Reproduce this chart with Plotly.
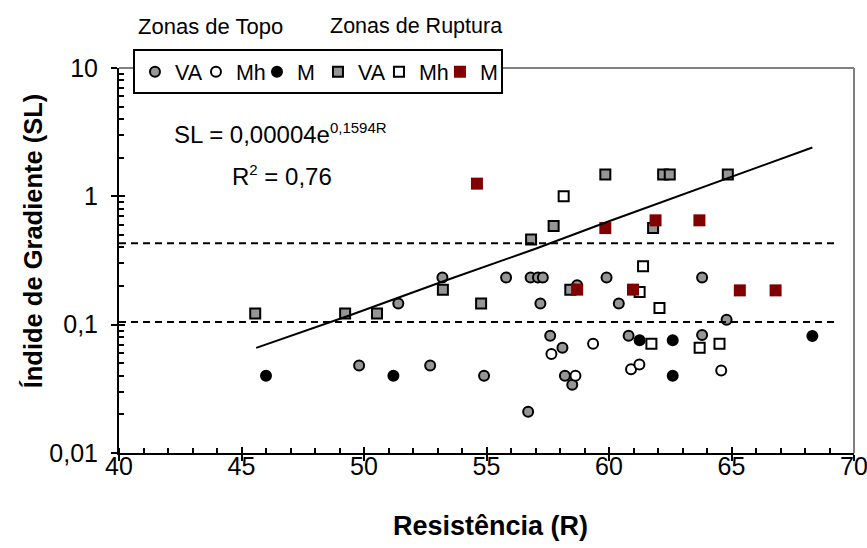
import plotly.graph_objects as go

# ---------------- data ----------------
topo_va_R = [51.4, 53.2, 55.8, 56.8, 57.1, 57.3, 59.9, 63.8, 57.2, 60.4, 49.8, 52.7,
             57.6, 58.1, 60.8, 54.9, 58.2, 58.5, 56.7, 58.7, 64.8, 63.8]
topo_va_SL = [0.146, 0.233, 0.233, 0.233, 0.233, 0.233, 0.233, 0.233, 0.146, 0.146, 0.048, 0.048,
              0.082, 0.066, 0.082, 0.040, 0.040, 0.034, 0.021, 0.203, 0.109, 0.083]

topo_mh_R = [57.65, 59.35, 58.63, 60.90, 61.24, 64.58]
topo_mh_SL = [0.059, 0.071, 0.040, 0.045, 0.049, 0.044]

topo_m_R = [46.0, 51.2, 61.25, 62.6, 62.6, 68.3]
topo_m_SL = [0.040, 0.040, 0.0755, 0.0755, 0.040, 0.0815]

rup_va_R = [45.56, 49.23, 50.53, 53.22, 54.78, 56.82, 57.74, 58.42, 59.85, 62.21, 62.48, 64.85, 61.80]
rup_va_SL = [0.122, 0.122, 0.122, 0.1875, 0.146, 0.46, 0.587, 0.1875, 1.48, 1.48, 1.48, 1.48, 0.566]

rup_mh_R = [58.15, 61.39, 61.25, 62.06, 61.73, 63.70, 64.51]
rup_mh_SL = [1.0, 0.285, 0.18, 0.135, 0.071, 0.066, 0.071]

rup_m_R = [54.61, 59.85, 61.90, 63.69, 58.70, 60.98, 65.34, 66.80]
rup_m_SL = [1.256, 0.566, 0.65, 0.65, 0.1875, 0.1875, 0.185, 0.185]

trend_R = [45.6, 49.4, 53.3, 57.0, 60.0, 64.9, 68.3]
trend_SL = [0.066, 0.118, 0.22, 0.39, 0.64, 1.40, 2.40]

limit_R = [40.0, 69.3]
limit_SL = [0.43, 0.105]

x_ticks = [40, 45, 50, 55, 60, 65, 70]
y_ticks = [0.01, 0.1, 1, 10]
y_ticktext = ["0,01", "0,1", "1", "10"]

# ---------------- styling ----------------
FONT = "Liberation Sans, Arial, sans-serif"
GRAY = "rgb(150,150,150)"
RED = "rgb(128,0,0)"
FRAME = "rgb(128,128,128)"

fig = go.Figure()

def add_series(xs, ys, name, symbol, fill, line_w=2, size=10, line_color="black"):
    fig.add_trace(go.Scatter(
        x=xs, y=ys, mode="markers", name=name,
        marker=dict(symbol=symbol, size=size, color=fill,
                    line=dict(color=line_color, width=line_w)),
        hoverinfo="x+y"))

add_series(topo_va_R, topo_va_SL, "VA", "circle", GRAY)
add_series(topo_mh_R, topo_mh_SL, "Mh", "circle", "white")
add_series(topo_m_R, topo_m_SL, "M", "circle", "black")
add_series(rup_va_R, rup_va_SL, "VA", "square", GRAY)
add_series(rup_mh_R, rup_mh_SL, "Mh", "square", "white")
add_series(rup_m_R, rup_m_SL, "M", "square", RED, line_w=0, size=12, line_color=RED)

fig.add_trace(go.Scatter(x=trend_R, y=trend_SL, mode="lines",
                         line=dict(color="black", width=2), showlegend=False,
                         hoverinfo="skip"))

for v in limit_SL:
    fig.add_trace(go.Scatter(x=limit_R, y=[v, v], mode="lines",
                             line=dict(color="black", width=2, dash="7px,5px"),
                             showlegend=False, hoverinfo="skip"))

# invisible helper trace so the overlay axes (crossing major ticks) are drawn
fig.add_trace(go.Scatter(x=[x_ticks[0], x_ticks[-1]], y=[y_ticks[0], y_ticks[-1]],
                         xaxis="x2", yaxis="y2", mode="markers",
                         marker=dict(size=1, opacity=0), showlegend=False, hoverinfo="skip"))

# plot-area frame (grey top and right edges)
fig.add_shape(type="line", xref="paper", yref="paper", x0=0, x1=1, y0=1, y1=1,
              line=dict(color=FRAME, width=2), layer="above")
fig.add_shape(type="line", xref="paper", yref="paper", x0=1, x1=1, y0=0, y1=1,
              line=dict(color=FRAME, width=2), layer="above")

ann = []
ann.append(dict(text="Zonas de Topo", x=0.023, y=1.108, xref="paper", yref="paper",
                xanchor="left", yanchor="middle", showarrow=False,
                font=dict(family=FONT, size=22, color="black")))
ann.append(dict(text="Zonas de Ruptura", x=0.285, y=1.108, xref="paper", yref="paper",
                xanchor="left", yanchor="middle", showarrow=False,
                font=dict(family=FONT, size=21.5, color="black")))
ann.append(dict(text="SL = 0,00004e<sup><span style='font-size:15px'>0,1594R</span></sup>",
                x=0.072, y=0.83, xref="paper", yref="paper",
                xanchor="left", yanchor="middle", showarrow=False,
                font=dict(family=FONT, size=24, color="black")))
ann.append(dict(text="R<sup><span style='font-size:15px'>2</span></sup> = 0,76",
                x=0.151, y=0.72, xref="paper", yref="paper",
                xanchor="left", yanchor="middle", showarrow=False,
                font=dict(family=FONT, size=24, color="black")))
ann.append(dict(text="<b>Resistência (R)</b>", x=(490 - 119) / 734.5, y=(452.5 - 525) / 384.8,
                xref="paper", yref="paper", xanchor="center", yanchor="middle", showarrow=False,
                font=dict(family=FONT, size=27, color="black")))
ann.append(dict(text="<b>Índide de Gradiente (SL)</b>", x=(33 - 119) / 734.5, y=(452.5 - 240) / 384.8,
                xref="paper", yref="paper", xanchor="center", yanchor="middle", showarrow=False,
                textangle=-90, font=dict(family=FONT, size=25.5, color="black")))

fig.update_layout(
    width=867, height=548,
    margin=dict(l=119, r=13, t=68, b=95, autoexpand=False),
    paper_bgcolor="white", plot_bgcolor="white",
    font=dict(family=FONT, size=24, color="black"),
    showlegend=True,
    legend=dict(orientation="h", x=0.019, y=1.0486, xanchor="left", yanchor="top",
                bordercolor="black", borderwidth=2, bgcolor="white",
                font=dict(family=FONT, size=21.5, color="black"),
                itemwidth=30, entrywidth=16, entrywidthmode="pixels",
                tracegroupgap=0),
    annotations=ann,
    xaxis=dict(range=[40, 70], autorange=False, tickvals=x_ticks, ticks="outside", ticklen=6,
               tickwidth=2, tickcolor="black", showline=True, linecolor="black", linewidth=2,
               showgrid=False, zeroline=False, tickfont=dict(size=25), ticklabelstandoff=-16,
               ticklabeloverflow="allow",
               minor=dict(ticks="inside", ticklen=5, tickwidth=1.5, tickcolor="black", dtick=1,
                          showgrid=False)),
    yaxis=dict(type="log", range=[-2, 1], autorange=False, tickvals=y_ticks, ticktext=y_ticktext,
               ticks="outside", ticklen=6, tickwidth=2, tickcolor="black",
               showline=True, linecolor="black", linewidth=2, showgrid=False, zeroline=False,
               tickfont=dict(size=25), ticklabelstandoff=8, ticklabeloverflow="allow",
               minor=dict(ticks="inside", ticklen=5, tickwidth=1.5, tickcolor="black",
                          tickvals=[m * 10 ** e for e in (-2, -1, 0) for m in range(2, 10)],
                          showgrid=False)),
    xaxis2=dict(range=[40, 70], autorange=False, overlaying="x", anchor="y2", side="bottom",
                tickvals=x_ticks, ticks="inside", ticklen=6, tickwidth=2, tickcolor="black",
                showticklabels=False, showline=False, showgrid=False, zeroline=False),
    yaxis2=dict(type="log", range=[-2, 1], autorange=False, overlaying="y", anchor="x2", side="left",
                tickvals=y_ticks, ticks="inside", ticklen=6, tickwidth=2, tickcolor="black",
                showticklabels=False, showline=False, showgrid=False, zeroline=False),
)

fig.write_html("out.html", config={"displayModeBar": False},
               post_script="document.body.style.margin='0';document.body.style.padding='0';")
